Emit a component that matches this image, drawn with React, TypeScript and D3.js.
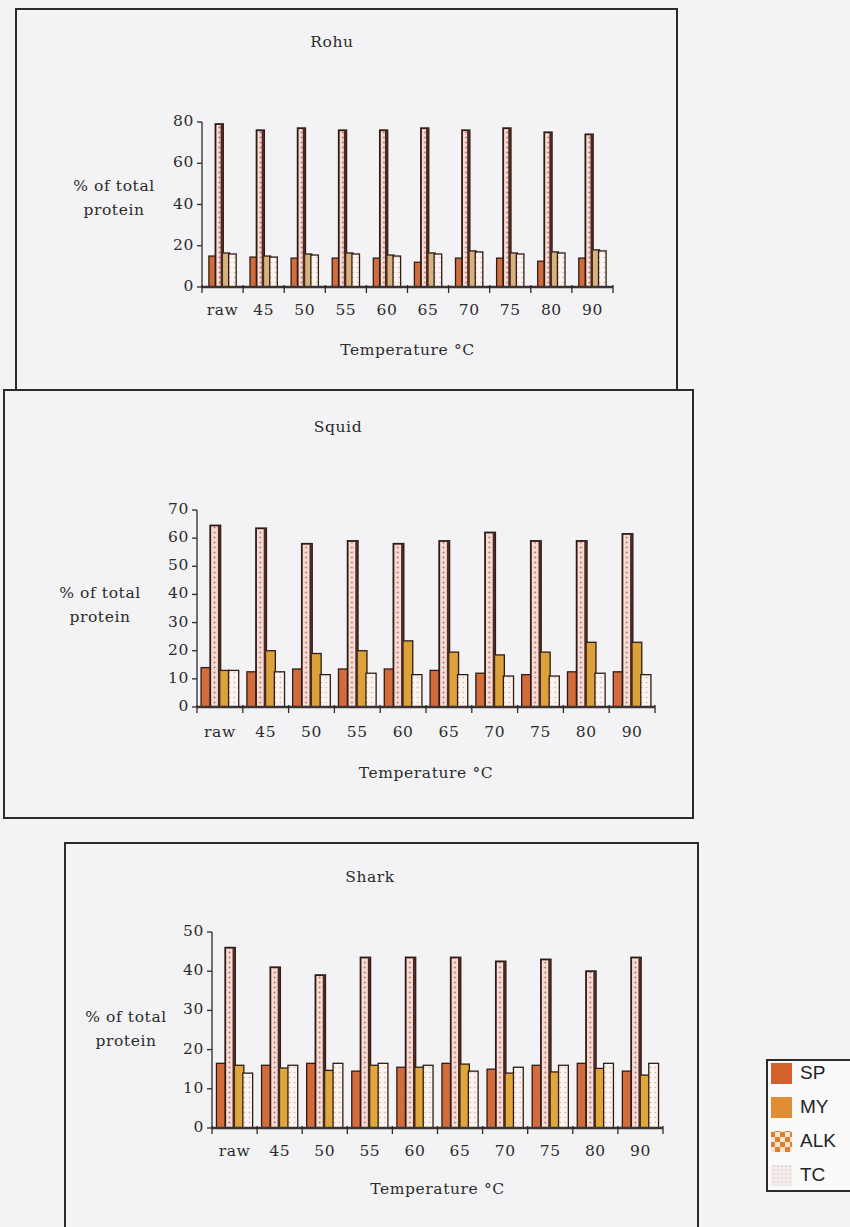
import { useEffect, useRef } from 'react';
import * as d3 from 'd3';

// categories and series
const temps = ["raw", "45", "50", "55", "60", "65", "70", "75", "80", "90"];
const seriesNames = ["SP", "MY", "ALK", "TC"];

// Rohu (% of total protein)
const rohuSP = [15, 14.5, 14, 14, 14, 12, 14, 14, 12.5, 14];
const rohuMY = [79, 76, 77, 76, 76, 77, 76, 77, 75, 74];
const rohuALK = [16.5, 15, 16, 16.5, 15.5, 16.5, 17.5, 16.5, 17, 18];
const rohuTC = [16, 14.5, 15.5, 16, 15, 16, 17, 16, 16.5, 17.5];
const rohuTicks = [0, 20, 40, 60, 80];

// Squid
const squidSP = [14, 12.5, 13.5, 13.5, 13.5, 13, 12, 11.5, 12.5, 12.5];
const squidMY = [64.5, 63.5, 58, 59, 58, 59, 62, 59, 59, 61.5];
const squidALK = [13, 20, 19, 20, 23.5, 19.5, 18.5, 19.5, 23, 23];
const squidTC = [13, 12.5, 11.5, 12, 11.5, 11.5, 11, 11, 12, 11.5];
const squidTicks = [0, 10, 20, 30, 40, 50, 60, 70];

// Shark
const sharkSP = [16.5, 16, 16.5, 14.5, 15.5, 16.5, 15, 16, 16.5, 14.5];
const sharkMY = [46, 41, 39, 43.5, 43.5, 43.5, 42.5, 43, 40, 43.5];
const sharkALK = [16, 15.3, 14.7, 16, 15.5, 16.3, 14, 14.3, 15.2, 13.5];
const sharkTC = [14, 16, 16.5, 16.5, 16, 14.5, 15.5, 16, 16.5, 16.5];
const sharkTicks = [0, 10, 20, 30, 40, 50];

const BG = "#f3f3f5";
const INK = "#2b2b2b";
const OUTLINE = "#2e1c14";
const serif = "'DejaVu Serif', serif";
const FS = "15.5px";

const charts = [
  {
    title: "Rohu", series: [rohuSP, rohuMY, rohuALK, rohuTC], ticks: rohuTicks,
    box: [16, 9, 661, 381], titleXY: [332, 43], x0: 202, x1: 613, y0: 287, yTop: 122,
    ylab: [114, 199], xl: 311, xt: 351, group: 0.64, alkFill: "#d8b27e",
  },
  {
    title: "Squid", series: [squidSP, squidMY, squidALK, squidTC], ticks: squidTicks,
    box: [4, 390, 689, 428], titleXY: [338, 428], x0: 197, x1: 655, y0: 707, yTop: 510,
    ylab: [100, 606], xl: 733, xt: 774, group: 0.8, alkFill: "#dca23a",
  },
  {
    title: "Shark", series: [sharkSP, sharkMY, sharkALK, sharkTC], ticks: sharkTicks,
    box: [65, 843, 633, 400], titleXY: [370, 878], x0: 212, x1: 663, y0: 1128, yTop: 932,
    ylab: [126, 1030], xl: 1152, xt: 1190, group: 0.78, alkFill: "#dfa63c",
  },
];

const legendFills = ["#d2612c", "#e08d33", "url(#lgALK)", "url(#lgTC)"];

function label(g, x, y, txt, anchor = "middle") {
  return g.append("text").attr("x", x).attr("y", y)
    .attr("text-anchor", anchor).attr("dominant-baseline", "middle")
    .style("font-family", serif).style("font-size", FS).style("letter-spacing", "0.6px")
    .attr("fill", INK).text(txt);
}

function drawChart(svg, cfg) {
  const g = svg.append("g");
  const [bx, by, bw, bh] = cfg.box;
  g.append("rect").attr("x", bx).attr("y", by).attr("width", bw).attr("height", bh)
    .attr("fill", BG).attr("stroke", INK).attr("stroke-width", 2);

  const yMax = cfg.ticks[cfg.ticks.length - 1];
  const x = d3.scaleBand().domain(temps).range([cfg.x0, cfg.x1]);
  const inner = d3.scaleBand().domain(seriesNames).range([0, x.bandwidth()])
    .paddingOuter(2 / cfg.group - 2);
  const y = d3.scaleLinear().domain([0, yMax]).range([cfg.y0, cfg.yTop]);

  label(g, cfg.titleXY[0], cfg.titleXY[1], cfg.title);

  // y axis
  g.append("line").attr("x1", cfg.x0).attr("x2", cfg.x0).attr("y1", cfg.y0).attr("y2", cfg.yTop)
    .attr("stroke", INK).attr("stroke-width", 1.3);
  g.selectAll(".ytk").data(cfg.ticks).enter().append("line")
    .attr("x1", cfg.x0 - 5).attr("x2", cfg.x0).attr("y1", d => y(d)).attr("y2", d => y(d))
    .attr("stroke", INK).attr("stroke-width", 1.3);
  cfg.ticks.forEach(t => label(g, cfg.x0 - 8, y(t), t, "end"));

  label(g, cfg.ylab[0], cfg.ylab[1] - 12, "% of total");
  label(g, cfg.ylab[0], cfg.ylab[1] + 12, "protein");

  // bars
  const fills = ["#d36c3c", "url(#pMY)", cfg.alkFill, "url(#pTC)"];
  const groups = g.selectAll(".grp").data(temps).enter().append("g")
    .attr("transform", d => `translate(${x(d)},0)`);
  seriesNames.forEach((s, si) => {
    groups.append("rect")
      .attr("x", inner(s) - 0.5)
      .attr("width", inner.bandwidth() + 1)
      .attr("y", (d, i) => y(cfg.series[si][i]))
      .attr("height", (d, i) => cfg.y0 - y(cfg.series[si][i]))
      .attr("fill", fills[si])
      .attr("stroke", OUTLINE)
      .attr("stroke-width", si === 1 ? 1.8 : 1.3);
  });
  // dark side on the tall bar
  groups.append("rect")
    .attr("x", inner("MY") + inner.bandwidth() - 2)
    .attr("width", 2.5)
    .attr("y", (d, i) => y(cfg.series[1][i]))
    .attr("height", (d, i) => cfg.y0 - y(cfg.series[1][i]))
    .attr("fill", "#4a2a22");

  // x axis (floor)
  g.append("line").attr("x1", cfg.x0).attr("x2", cfg.x1).attr("y1", cfg.y0).attr("y2", cfg.y0)
    .attr("stroke", "#3d3333").attr("stroke-width", 2.5);
  const bounds = temps.map(t => x(t)).concat([cfg.x1]);
  g.selectAll(".xt").data(bounds).enter().append("line")
    .attr("x1", d => d).attr("x2", d => d).attr("y1", cfg.y0 - 2).attr("y2", cfg.y0 + 6)
    .attr("stroke", INK).attr("stroke-width", 1.3);
  temps.forEach(t => label(g, x(t) + x.bandwidth() / 2, cfg.xl, t));
  label(g, (cfg.x0 + cfg.x1) / 2, cfg.xt, "Temperature °C");
}

const App = () => {
  const ref = useRef(null);
  const width = 850, height = 1227;

  useEffect(() => {
    const svg = d3.select(ref.current);
    svg.selectAll("*").remove();

    const defs = svg.append("defs");
    const pMY = defs.append("pattern").attr("id", "pMY").attr("patternUnits", "userSpaceOnUse")
      .attr("width", 5).attr("height", 5);
    pMY.append("rect").attr("width", 5).attr("height", 5).attr("fill", "#f6dcd6");
    pMY.append("circle").attr("cx", 2.5).attr("cy", 2.5).attr("r", 0.9).attr("fill", "#b9665a");
    const pTC = defs.append("pattern").attr("id", "pTC").attr("patternUnits", "userSpaceOnUse")
      .attr("width", 5).attr("height", 5);
    pTC.append("rect").attr("width", 5).attr("height", 5).attr("fill", "#fbf3ef");
    pTC.append("circle").attr("cx", 2.5).attr("cy", 2.5).attr("r", 0.8).attr("fill", "#d6aa9c");
    const lgALK = defs.append("pattern").attr("id", "lgALK").attr("patternUnits", "userSpaceOnUse")
      .attr("width", 10).attr("height", 10);
    lgALK.append("rect").attr("width", 10).attr("height", 10).attr("fill", "#fbe6d2");
    lgALK.append("rect").attr("width", 5).attr("height", 5).attr("fill", "#dd7f2e");
    lgALK.append("rect").attr("x", 5).attr("y", 5).attr("width", 5).attr("height", 5).attr("fill", "#dd7f2e");
    const lgTC = defs.append("pattern").attr("id", "lgTC").attr("patternUnits", "userSpaceOnUse")
      .attr("width", 4).attr("height", 4);
    lgTC.append("rect").attr("width", 4).attr("height", 4).attr("fill", "#f4ecea");
    lgTC.append("circle").attr("cx", 2).attr("cy", 2).attr("r", 0.8).attr("fill", "#d3c3c0");

    svg.append("rect").attr("width", width).attr("height", height).attr("fill", BG);

    charts.forEach(c => drawChart(svg, c));

    // legend
    const lg = svg.append("g");
    lg.append("rect").attr("x", 767).attr("y", 1060).attr("width", 100).attr("height", 131)
      .attr("fill", "#fafafa").attr("stroke", INK).attr("stroke-width", 2);
    const ly = d3.scalePoint().domain(seriesNames).range([1074, 1176]);
    const rows = lg.selectAll(".lr").data(seriesNames).enter().append("g")
      .attr("transform", d => `translate(0,${ly(d)})`);
    rows.append("rect").attr("x", 771).attr("y", -11).attr("width", 21).attr("height", 21)
      .attr("fill", (d, i) => legendFills[i]);
    rows.append("text").attr("x", 800).attr("dominant-baseline", "middle")
      .style("font-family", "'Liberation Sans', Arial, sans-serif").style("font-size", "19px")
      .attr("fill", "#222").text(d => d);
  }, []);

  return (
    <svg ref={ref} width={width} height={height}
      style={{ position: "absolute", left: 0, top: 0, display: "block" }} />
  );
};

export default App;
